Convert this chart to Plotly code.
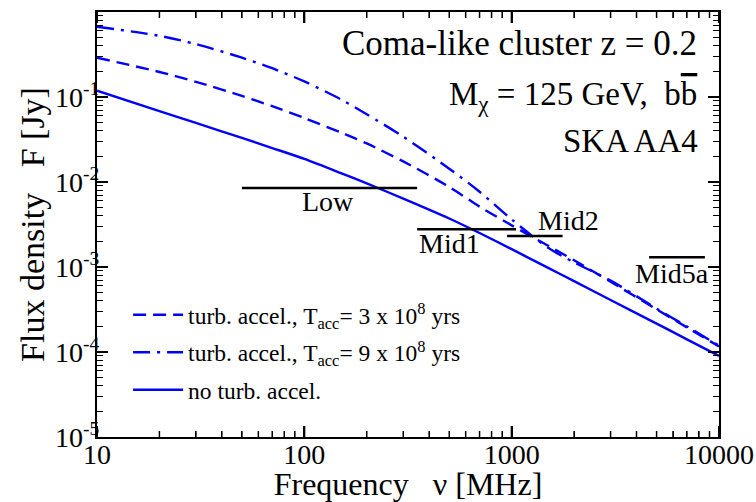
import math
import plotly.graph_objects as go

# ---- data ----
freq_mhz = [10, 20, 30, 50, 70, 100, 150, 200, 300, 500, 700, 1000, 1500, 2000, 3000, 5000, 7000, 10000]

flux_no_turb = [0.1186, 0.0682, 0.0495, 0.0330, 0.0251, 0.0187, 0.01274, 0.00962, 0.00638,
                0.00372, 0.00251, 0.00162, 0.000977, 0.000681, 0.000409, 0.000216, 0.000141, 0.0000902]

flux_tacc_3e8 = [0.290, 0.197, 0.151, 0.1028, 0.0780, 0.0566, 0.0382, 0.0284, 0.01746,
                 0.00875, 0.00513, 0.00309, 0.00178, 0.00120, 0.000670, 0.000318, 0.000195, 0.000116]

flux_tacc_9e8 = [0.671, 0.524, 0.419, 0.290, 0.218, 0.1524, 0.0938, 0.0627, 0.0341,
                 0.01432, 0.00769, 0.00363, 0.00168, 0.001135, 0.000692, 0.000324, 0.000200, 0.000119]

# SKA AA4 sensitivity bands: name, f_min, f_max [MHz], flux [Jy]
band_names = ["Low", "Mid1", "Mid2", "Mid5a"]
band_fmin = [50, 350, 950, 4600]
band_fmax = [350, 1050, 1760, 8550]
band_flux = [8.5e-3, 2.78e-3, 2.32e-3, 1.3e-3]

x_tickvals = [10, 100, 1000, 10000]
x_ticktext = ["10", "100", "1000", "10000"]
y_tickvals = [1e-5, 1e-4, 1e-3, 1e-2, 1e-1, 1]
y_ticktext = ["10<sup>-5</sup>", "10<sup>-4</sup>", "10<sup>-3</sup>",
              "10<sup>-2</sup>", "10<sup>-1</sup>", "10<sup>0</sup>"]
x_minor_ticks = [20, 30, 40, 50, 60, 70, 80, 90,
                 200, 300, 400, 500, 600, 700, 800, 900,
                 2000, 3000, 4000, 5000, 6000, 7000, 8000, 9000]
y_minor_ticks = [m * d for d in (1e-5, 1e-4, 1e-3, 1e-2, 1e-1) for m in (2, 3, 4, 5, 6, 7, 8, 9)]

X_RANGE = [1, 4]   # log10 of 10 .. 10000 MHz
Y_RANGE = [-5, 0]  # log10 of 1e-5 .. 1 Jy

FONT = "Liberation Serif"
BLUE = "#0000ff"
PLOT_H = 425.0  # plot-area height in px (for tick-mark lengths)

fig = go.Figure()

fig.add_trace(go.Scatter(
    x=freq_mhz, y=flux_tacc_3e8, mode="lines", line_shape="spline",
    line=dict(color=BLUE, width=2.4, dash="13px,7px", smoothing=0.8),
    name="turb. accel., T<sub>acc</sub>= 3 x 10<sup>8</sup> yrs", legendgroup="a"))
fig.add_trace(go.Scatter(
    x=freq_mhz, y=flux_tacc_9e8, mode="lines", line_shape="spline",
    line=dict(color=BLUE, width=2.4, dash="17px,7px,3px,7px", smoothing=0.8),
    name="turb. accel., T<sub>acc</sub>= 9 x 10<sup>8</sup> yrs", legendgroup="b"))
fig.add_trace(go.Scatter(
    x=freq_mhz, y=flux_no_turb, mode="lines", line_shape="spline",
    line=dict(color=BLUE, width=2.4, smoothing=0.8),
    name="no turb. accel.", legendgroup="c"))

# sensitivity bands drawn on overlaid axes (same log scales) that carry the minor ticks
for name, f0, f1, fl in zip(band_names, band_fmin, band_fmax, band_flux):
    fig.add_trace(go.Scatter(x=[f0, f1], y=[fl, fl], mode="lines", xaxis="x2", yaxis="y2",
                             line=dict(color="black", width=2.6), showlegend=False,
                             hoverinfo="skip"))

# frequency-axis tick marks (bottom and top), positioned in the x domain from the tick values
for vals, ln, w in ((x_tickvals, 11, 2.0), (x_minor_ticks, 6, 1.5)):
    frac = ln / PLOT_H
    for v in vals:
        xd = (math.log10(v) - X_RANGE[0]) / (X_RANGE[1] - X_RANGE[0])
        for y0, y1 in ((0, frac), (1, 1 - frac)):
            fig.add_shape(type="line", xref="x domain", yref="y domain",
                          x0=xd, x1=xd, y0=y0, y1=y1,
                          line=dict(color="black", width=w), layer="above")

# band labels (positions in log10 data units)
label_pos = {"Low": (2.114, -2.23), "Mid1": (2.698, -2.72), "Mid2": (3.273, -2.45), "Mid5a": (3.774, -3.08)}
for name in band_names:
    lx, ly = label_pos[name]
    fig.add_annotation(x=lx, y=ly, xref="x", yref="y", text=name, showarrow=False,
                       font=dict(family=FONT, size=28, color="black"),
                       xanchor="center", yanchor="middle")

fig.add_annotation(x=0.968, y=0.925, xref="paper", yref="paper",
                   text="Coma-like cluster z = 0.2", showarrow=False,
                   xanchor="right", yanchor="middle",
                   font=dict(family=FONT, size=35, color="black"))
fig.add_annotation(x=0.968, y=0.80, xref="paper", yref="paper",
                   text="M<sub>χ</sub> = 125 GeV,  b<span style='text-decoration:overline'>b</span>",
                   showarrow=False, xanchor="right", yanchor="middle",
                   font=dict(family=FONT, size=33, color="black"))
fig.add_annotation(x=0.969, y=0.6965, xref="paper", yref="paper",
                   text="SKA AA4", showarrow=False, xanchor="right", yanchor="middle",
                   font=dict(family=FONT, size=33, color="black"))

major = dict(showline=True, linecolor="black", linewidth=2, mirror="allticks",
             ticks="inside", ticklen=11, tickwidth=1.6, tickcolor="black",
             showgrid=False, zeroline=False,
             tickfont=dict(family=FONT, size=28, color="black"))
minor = dict(showline=False, mirror="allticks", ticks="inside", ticklen=6, tickwidth=1.3,
             tickcolor="black", showgrid=False, zeroline=False, showticklabels=False)

fig.update_layout(
    xaxis=dict(type="log", range=X_RANGE, tickmode="array", tickvals=x_tickvals,
               ticktext=x_ticktext, ticklabelstandoff=-9,
               title=dict(text="Frequency\u00a0\u00a0\u00a0ν [MHz]",
                          font=dict(family=FONT, size=32, color="black"), standoff=0),
               **major),
    yaxis=dict(type="log", range=Y_RANGE, tickmode="array", tickvals=y_tickvals,
               ticktext=y_ticktext, ticklabelstandoff=-10,
               title=dict(text="Flux density\u00a0\u00a0\u00a0F [Jy]",
                          font=dict(family=FONT, size=34, color="black"), standoff=0),
               **major),
    xaxis2=dict(type="log", range=X_RANGE, overlaying="x", anchor="y2", side="bottom",
                tickmode="array", tickvals=x_minor_ticks, **minor),
    yaxis2=dict(type="log", range=Y_RANGE, overlaying="y", anchor="x2", side="left",
                tickmode="array", tickvals=y_minor_ticks, **minor),
)

fig.update_layout(
    width=756, height=502,
    margin=dict(l=97, r=37, t=12, b=65, autoexpand=False),
    paper_bgcolor="white", plot_bgcolor="white",
    font=dict(family=FONT, color="black"),
    legend=dict(x=0.05, y=0.339, xanchor="left", yanchor="top",
                bgcolor="rgba(0,0,0,0)", borderwidth=0,
                font=dict(family=FONT, size=23.5, color="black"),
                tracegroupgap=4, itemwidth=50),
    showlegend=True,
)

fig.write_html("out.html", config={"displayModeBar": False},
               post_script="document.body.style.margin='0px';")
